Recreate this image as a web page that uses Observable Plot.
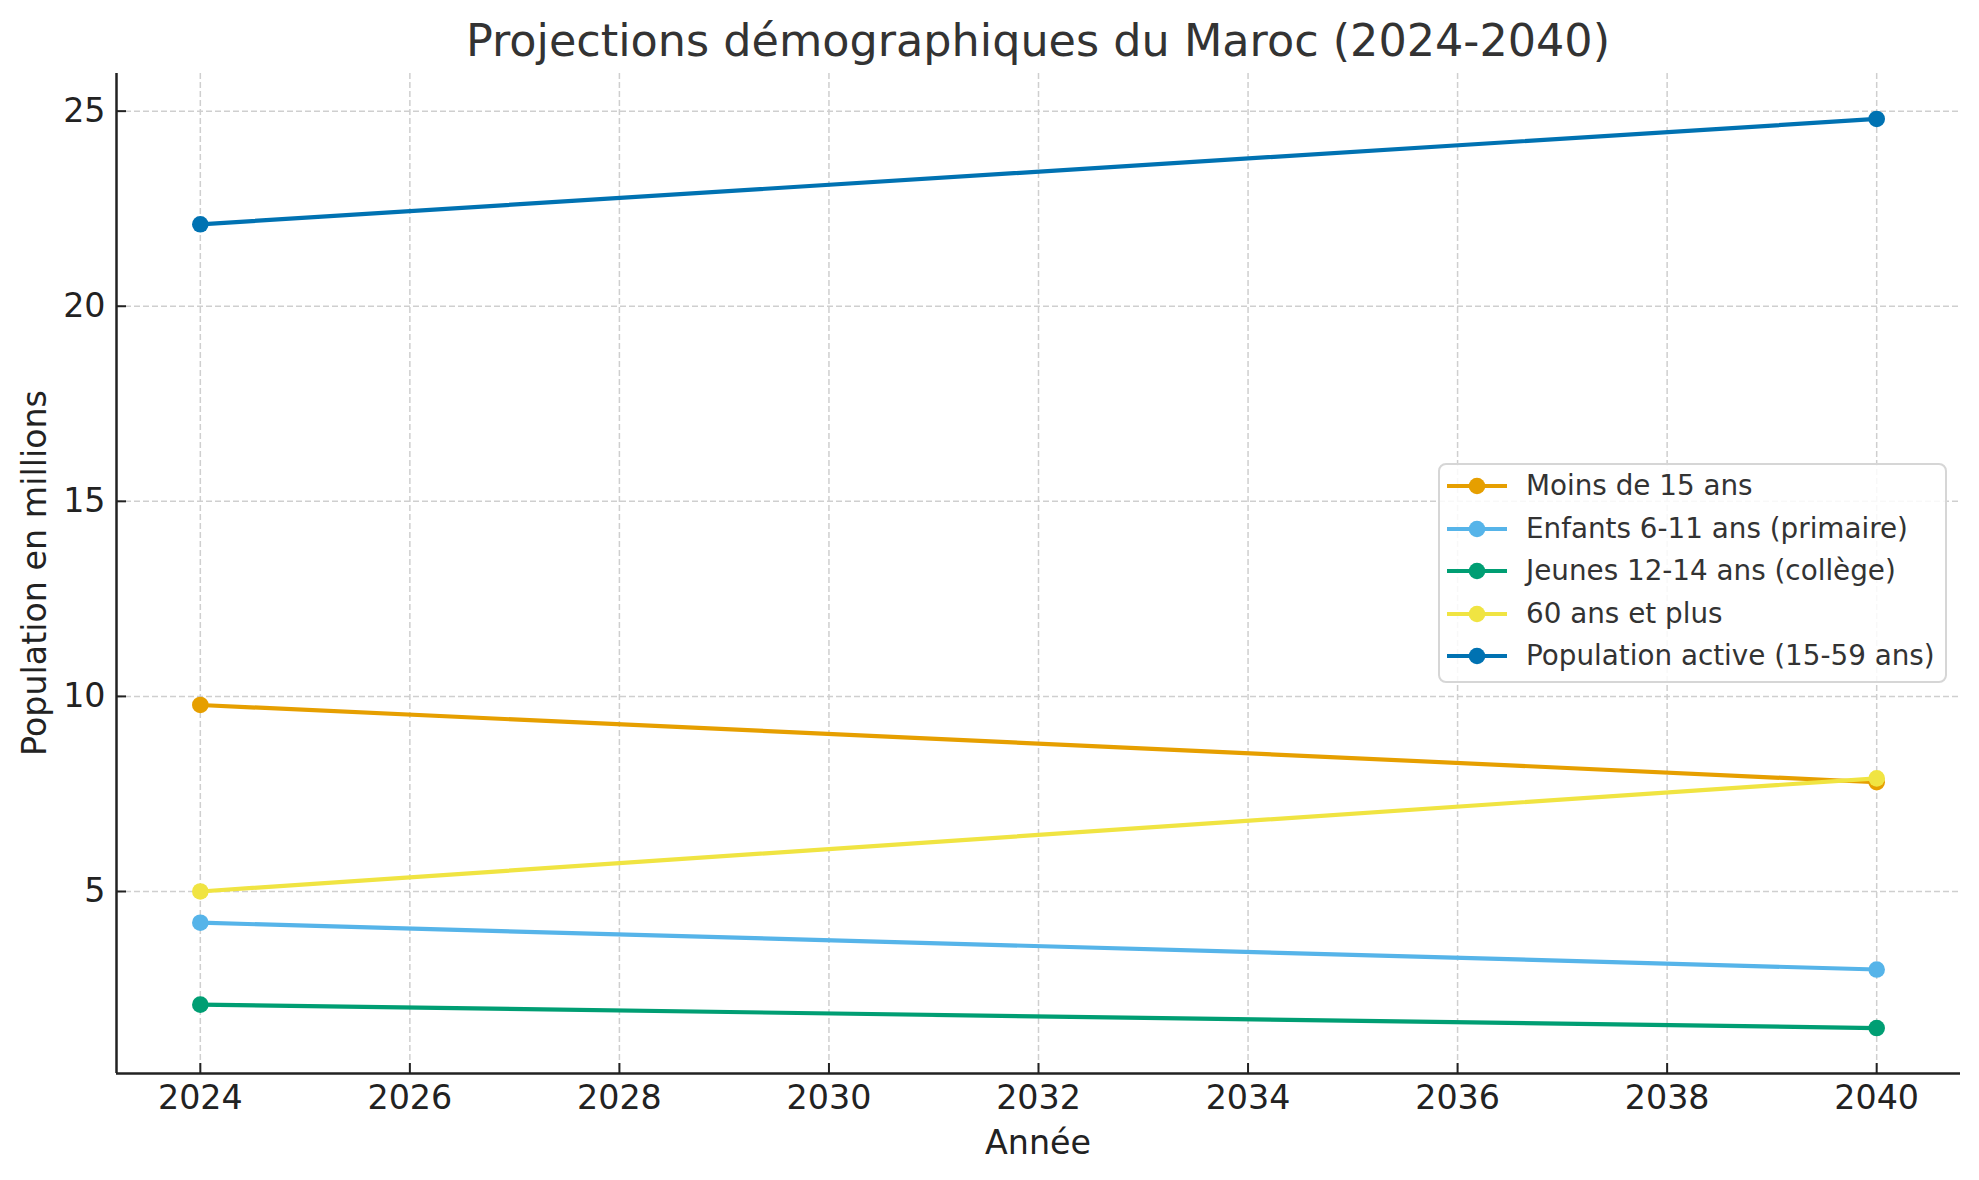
<!DOCTYPE html>
<html>
<head>
<meta charset="utf-8">
<script src="https://cdn.jsdelivr.net/npm/d3@7"></script>
<script src="https://cdn.jsdelivr.net/npm/@observablehq/plot@0.6"></script>
<style>
  html, body { margin: 0; padding: 0; background: #fff; }
  body { font-family: "DejaVu Sans", sans-serif; }
  #wrap { position: relative; width: 1979px; height: 1180px; overflow: hidden; }
  #title { height: 73px; position: relative; }
  #title span { position: absolute; left: 1038px; top: 41px; transform: translate(-50%, -50%);
    font-size: 44.5px; line-height: 1; color: #333; white-space: nowrap; }
  .lab { position: absolute; font-size: 33.3px; line-height: 1; color: #222; white-space: nowrap; }
  #ylab { left: 35px; top: 573px; transform: translate(-50%, -50%) rotate(-90deg); }
  #xlab { left: 1038px; top: 1143px; transform: translate(-50%, -50%); }
  #legend { position: absolute; left: 1438px; top: 463px; width: 505px; height: 216px;
    border: 2px solid #d6d6d6; border-radius: 8px; background: rgba(255,255,255,0.85); }
  .row { position: absolute; left: 0; height: 30px; display: flex; align-items: center; }
  .row svg { margin-left: 7px; }
  .row span { margin-left: 19px; font-size: 27.8px; line-height: 1; color: #333; white-space: nowrap; }
</style>
</head>
<body>
<div id="wrap">
  <div id="title"><span>Projections démographiques du Maroc (2024-2040)</span></div>
  <div id="chart"></div>
  <div class="lab" id="ylab">Population en millions</div>
  <div class="lab" id="xlab">Année</div>
  <div id="legend"></div>
</div>
<script>
// ---- data ----
const years = [2024, 2040];
const seriesNames = [
  "Moins de 15 ans",
  "Enfants 6-11 ans (primaire)",
  "Jeunes 12-14 ans (collège)",
  "60 ans et plus",
  "Population active (15-59 ans)"
];
const moins15 = [9.78, 7.8];
const enfants611 = [4.2, 3.0];
const jeunes1214 = [2.1, 1.5];
const plus60 = [5.0, 7.9];
const active1559 = [22.1, 24.8];
const seriesValues = [moins15, enfants611, jeunes1214, plus60, active1559];
const seriesColors = ["#E69F00", "#56B4E9", "#009E73", "#F0E442", "#0072B2"];
const xTicks = [2024, 2026, 2028, 2030, 2032, 2034, 2036, 2038, 2040];
const yTicks = [5, 10, 15, 20, 25];

// ---- table ----
const rows = [];
seriesNames.forEach((name, i) => {
  years.forEach((yr, j) => rows.push({series: name, year: yr, value: seriesValues[i][j]}));
});

// matplotlib-like 5% margins
const xExt = d3.extent(years), yExt = d3.extent(rows, d => d.value);
const xPad = (xExt[1] - xExt[0]) * 0.05, yPad = (yExt[1] - yExt[0]) * 0.05;
const xDomain = [xExt[0] - xPad, xExt[1] + xPad];
const yDomain = [yExt[0] - yPad, yExt[1] + yPad];

const seriesMarks = [];
seriesNames.forEach((name) => {
  const d = rows.filter(r => r.series === name);
  seriesMarks.push(Plot.line(d, {x: "year", y: "value", stroke: "series", strokeWidth: 4.2}));
  seriesMarks.push(Plot.dot(d, {x: "year", y: "value", fill: "series", r: 8.3}));
});

const chart = Plot.plot({
  width: 1979,
  height: 1107,
  marginTop: 0,
  marginBottom: 107,
  marginLeft: 116,
  marginRight: 19,
  style: {fontFamily: "DejaVu Sans", background: "transparent", color: "#222"},
  x: {domain: xDomain, label: null},
  y: {domain: yDomain, label: null},
  color: {domain: seriesNames, range: seriesColors},
  marks: [
    Plot.gridX(xTicks, {stroke: "#cfcfcf", strokeOpacity: 1, strokeWidth: 1.5, strokeDasharray: "6,3"}),
    Plot.gridY(yTicks, {stroke: "#cfcfcf", strokeOpacity: 1, strokeWidth: 1.5, strokeDasharray: "6,3"}),
    ...seriesMarks,
    Plot.ruleX([xDomain[0]], {stroke: "#222", strokeWidth: 2.5}),
    Plot.ruleY([yDomain[0]], {stroke: "#222", strokeWidth: 2.5}),
    Plot.axisX({ticks: xTicks, tickSize: 10, dy: -10, tickFormat: () => "", stroke: "#222", strokeWidth: 2, label: null}),
    Plot.axisY({ticks: yTicks, tickSize: 10, dx: 10, tickFormat: () => "", stroke: "#222", strokeWidth: 2, label: null}),
    Plot.axisX({ticks: xTicks, tickSize: 0, tickPadding: 12, tickFormat: d => String(d), fontSize: 33.3, fill: "#222", label: null}),
    Plot.axisY({ticks: yTicks, tickSize: 0, tickPadding: 11, tickFormat: d => String(d), fontSize: 33.3, fill: "#222", label: null})
  ]
});
document.getElementById("chart").appendChild(chart);

// ---- legend ----
const legend = document.getElementById("legend");
const rowCenters = [21, 63.5, 106, 149, 191];
seriesNames.forEach((name, i) => {
  const r = document.createElement("div");
  r.className = "row";
  r.style.top = (rowCenters[i] - 15) + "px";
  r.innerHTML = `<svg width="60" height="30"><line x1="0" y1="15" x2="60" y2="15" stroke="${seriesColors[i]}" stroke-width="4.2"/><circle cx="30" cy="15" r="8.3" fill="${seriesColors[i]}"/></svg><span>${name}</span>`;
  legend.appendChild(r);
});
</script>
</body>
</html>
